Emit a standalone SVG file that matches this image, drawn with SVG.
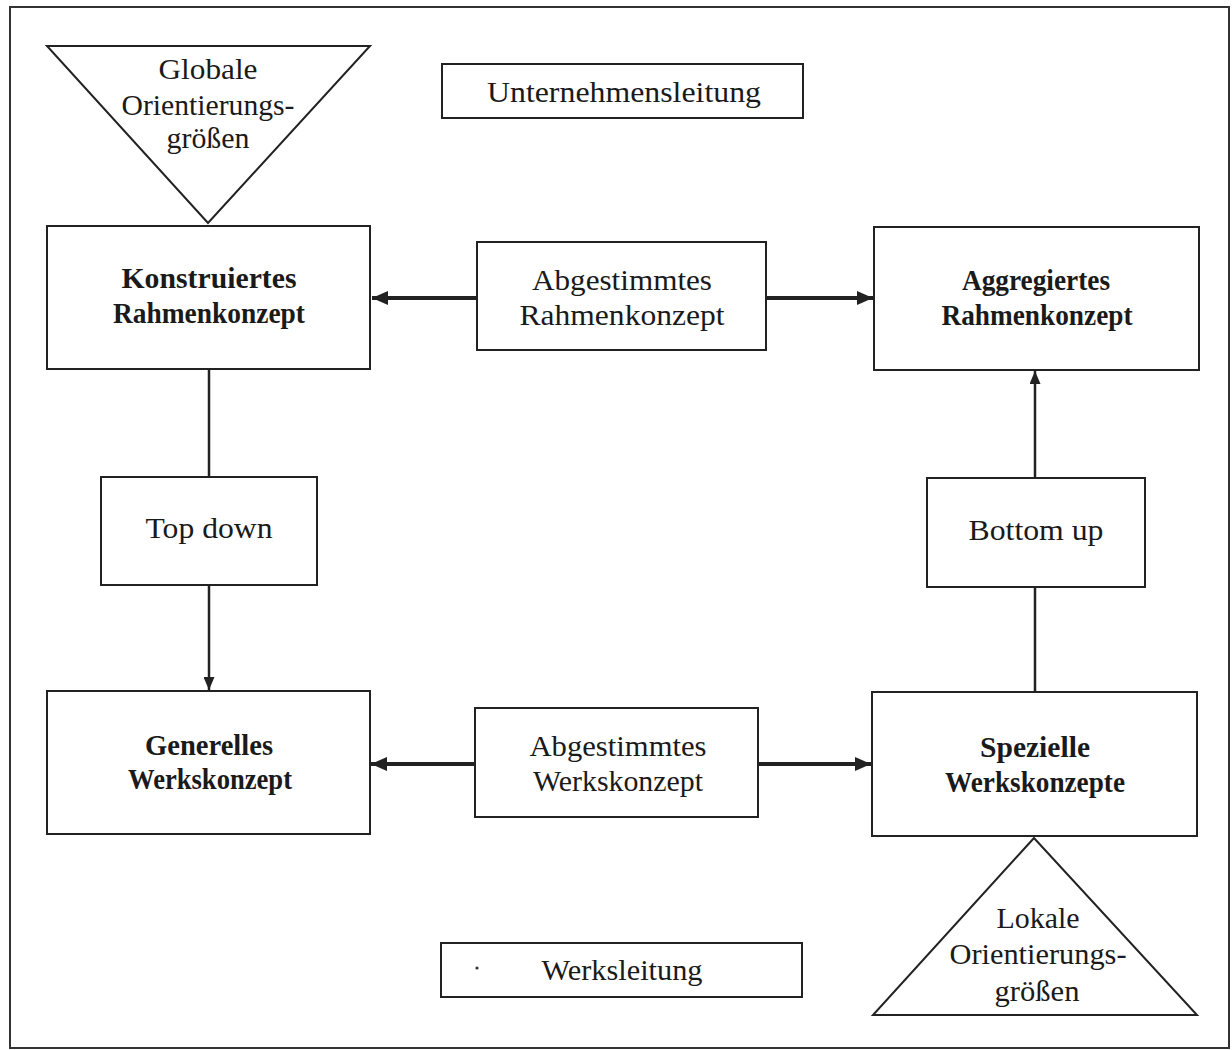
<svg xmlns="http://www.w3.org/2000/svg" width="1232" height="1050" viewBox="0 0 1232 1050">
<defs>
<style>
.box{fill:#fff;stroke:#222;stroke-width:2}
.t{font-family:"Liberation Serif","Times New Roman",serif;font-size:30px;fill:#1a1a1a;text-anchor:middle}
.b{font-weight:bold}
.thick{stroke:#222;stroke-width:4;fill:none}
.thin{stroke:#222;stroke-width:2.5;fill:none}
</style>
<marker id="ah" viewBox="0 0 16 14" refX="16" refY="7" markerWidth="16" markerHeight="14" markerUnits="userSpaceOnUse" orient="auto">
<path d="M0,0 L16,7 L0,14 Z" fill="#222"/>
</marker>
<marker id="av" viewBox="0 0 13 11" refX="13" refY="5.5" markerWidth="13" markerHeight="11" markerUnits="userSpaceOnUse" orient="auto">
<path d="M0,0 L13,5.5 L0,11 Z" fill="#222"/>
</marker>
</defs>
<rect x="0" y="0" width="1232" height="1050" fill="#fff"/>
<rect x="10" y="7" width="1219" height="1041" fill="none" stroke="#333" stroke-width="2"/>

<g id="connectors">
<line class="thick" x1="477" y1="298" x2="372" y2="298" marker-end="url(#ah)"/>
<line class="thick" x1="766" y1="298" x2="873" y2="298" marker-end="url(#ah)"/>
<line class="thick" x1="475" y1="764" x2="371" y2="764" marker-end="url(#ah)"/>
<line class="thick" x1="758" y1="764" x2="871" y2="764" marker-end="url(#ah)"/>
<line class="thin" x1="209" y1="369" x2="209" y2="477"/>
<line class="thin" x1="209" y1="585" x2="209" y2="690" marker-end="url(#av)"/>
<line class="thin" x1="1035" y1="692" x2="1035" y2="587"/>
<line class="thin" x1="1035" y1="478" x2="1035" y2="371" marker-end="url(#av)"/>
</g>

<g id="globale">
<polygon class="box" points="47,46 370,46 208,223"/>
<text class="t" x="208" y="79" textLength="99" lengthAdjust="spacingAndGlyphs">Globale</text>
<text class="t" x="208" y="115" textLength="173" lengthAdjust="spacingAndGlyphs">Orientierungs-</text>
<text class="t" x="208" y="148" textLength="83" lengthAdjust="spacingAndGlyphs">größen</text>
</g>

<g id="unternehmensleitung">
<rect class="box" x="442" y="64" width="361" height="54"/>
<text class="t" x="624" y="102" textLength="274" lengthAdjust="spacingAndGlyphs">Unternehmensleitung</text>
</g>

<g id="konstruiertes">
<rect class="box" x="47" y="226" width="323" height="143"/>
<text class="t b" x="209" y="288" textLength="175" lengthAdjust="spacingAndGlyphs">Konstruiertes</text>
<text class="t b" x="209" y="323" textLength="192" lengthAdjust="spacingAndGlyphs">Rahmenkonzept</text>
</g>

<g id="abgestimmtes-rahmen">
<rect class="box" x="477" y="242" width="289" height="108"/>
<text class="t" x="622" y="290" textLength="180" lengthAdjust="spacingAndGlyphs">Abgestimmtes</text>
<text class="t" x="622" y="325" textLength="205" lengthAdjust="spacingAndGlyphs">Rahmenkonzept</text>
</g>

<g id="aggregiertes">
<rect class="box" x="874" y="227" width="325" height="143"/>
<text class="t b" x="1036" y="290" textLength="148" lengthAdjust="spacingAndGlyphs">Aggregiertes</text>
<text class="t b" x="1037" y="325" textLength="191" lengthAdjust="spacingAndGlyphs">Rahmenkonzept</text>
</g>

<g id="topdown">
<rect class="box" x="101" y="477" width="216" height="108"/>
<text class="t" x="209" y="538" textLength="127" lengthAdjust="spacingAndGlyphs">Top down</text>
</g>

<g id="bottomup">
<rect class="box" x="927" y="478" width="218" height="109"/>
<text class="t" x="1036" y="540" textLength="135" lengthAdjust="spacingAndGlyphs">Bottom up</text>
</g>

<g id="generelles">
<rect class="box" x="47" y="691" width="323" height="143"/>
<text class="t b" x="209" y="755" textLength="128" lengthAdjust="spacingAndGlyphs">Generelles</text>
<text class="t b" x="210" y="789" textLength="164" lengthAdjust="spacingAndGlyphs">Werkskonzept</text>
</g>

<g id="abgestimmtes-werks">
<rect class="box" x="475" y="708" width="283" height="109"/>
<text class="t" x="618" y="756" textLength="177" lengthAdjust="spacingAndGlyphs">Abgestimmtes</text>
<text class="t" x="618" y="791" textLength="170" lengthAdjust="spacingAndGlyphs">Werkskonzept</text>
</g>

<g id="spezielle">
<rect class="box" x="872" y="692" width="325" height="144"/>
<text class="t b" x="1035" y="757" textLength="110" lengthAdjust="spacingAndGlyphs">Spezielle</text>
<text class="t b" x="1035" y="792" textLength="180" lengthAdjust="spacingAndGlyphs">Werkskonzepte</text>
</g>

<g id="lokale">
<polygon class="box" points="1034,838 873,1015 1197,1015"/>
<text class="t" x="1038" y="928" textLength="83" lengthAdjust="spacingAndGlyphs">Lokale</text>
<text class="t" x="1038" y="964" textLength="177" lengthAdjust="spacingAndGlyphs">Orientierungs-</text>
<text class="t" x="1037" y="1001" textLength="85" lengthAdjust="spacingAndGlyphs">größen</text>
</g>

<g id="werksleitung">
<rect class="box" x="441" y="943" width="361" height="54"/>
<circle cx="477" cy="968" r="1.6" fill="#333"/>
<text class="t" x="622" y="980" textLength="161" lengthAdjust="spacingAndGlyphs">Werksleitung</text>
</g>
</svg>
